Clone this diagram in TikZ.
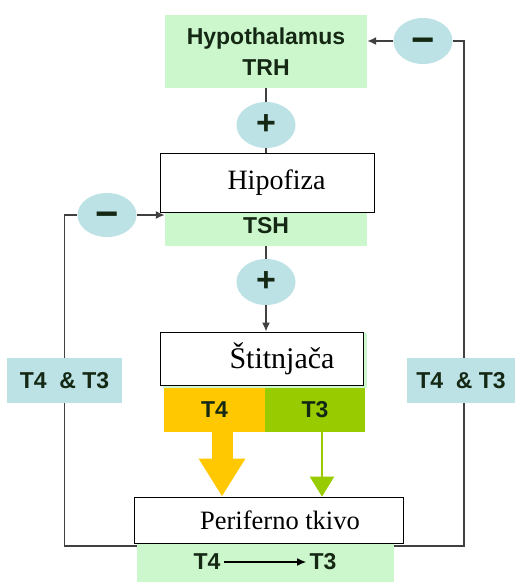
\documentclass[tikz,border=0pt]{standalone}
\usepackage{fontspec}
\setmainfont{Liberation Serif}
\newfontfamily\labfont{Liberation Sans}
\usetikzlibrary{shapes.geometric,arrows.meta}
\definecolor{paleGreen}{HTML}{CCF7CC}
\definecolor{paleBlue}{HTML}{BDE2E6}
\definecolor{tFour}{HTML}{FFC800}
\definecolor{tThree}{HTML}{99CC00}
\definecolor{inkDark}{HTML}{142814}
\definecolor{lineGrey}{HTML}{404040}
\begin{document}
\begin{tikzpicture}[x=1pt,y=-1pt,
    greenbox/.style={fill=paleGreen, inner sep=0pt, text=inkDark, font=\labfont\bfseries\fontsize{23}{31}\selectfont, align=center},
    bluebox/.style={fill=paleBlue, inner sep=0pt, minimum height=45pt, text=inkDark, font=\labfont\bfseries\fontsize{23}{26}\selectfont},
    sign/.style={ellipse, fill=paleBlue, inner sep=0pt, minimum width=59pt, minimum height=46pt, text=inkDark, font=\labfont\bfseries\fontsize{34}{34}\selectfont},
    minus/.style={sign, font=\labfont\bfseries\fontsize{40}{40}\selectfont},
    organ/.style={draw, fill=white, inner sep=0pt, line width=0.8pt},
    link/.style={lineGrey, line width=1.7pt},
    tip/.style={-{Latex[length=9pt,width=8pt]}}]
    \fill[white] (0,0) rectangle (515,582);
    \useasboundingbox (0,0) rectangle (515,582);

    % hypothalamus and pituitary
    \node[greenbox, minimum width=202pt, minimum height=73pt] (Hyp) at (266,51.5) {Hypothalamus\\TRH};
    \node[sign] (PlusTop) at (266,125) {+};
    \node[greenbox, minimum width=202pt, minimum height=40pt] (Tsh) at (266,226) {TSH};
    \node[organ, minimum width=214pt, minimum height=59pt, font=\fontsize{28}{30}\selectfont] (Pit) at (267,182.5) {\hspace*{19pt}Hipofiza};
    \node[sign] (PlusMid) at (266,282) {+};

    % thyroid
    \node[fill=paleGreen, minimum width=204pt, minimum height=55pt] (ThyG) at (265,360.5) {};
    \node[organ, minimum width=203pt, minimum height=53pt, font=\fontsize{30}{32}\selectfont] (Thy) at (261.5,358.5) {\hspace*{41pt}Štitnjača};
    \node[greenbox, fill=tFour, minimum width=101pt, minimum height=44pt] (T4) at (214.5,410) {T4};
    \node[greenbox, fill=tThree, minimum width=100pt, minimum height=44pt] (T3) at (315,410) {T3};

    % periphery
    \node[greenbox, minimum width=257pt, minimum height=42pt] (Conv) at (265.5,561) {};
    \node[organ, minimum width=269pt, minimum height=46pt, font=\fontsize{26.5}{28}\selectfont] (Peri) at (268.5,520) {\hspace*{23pt}Periferno tkivo};
    \node[text=inkDark, font=\labfont\bfseries\fontsize{23}{26}\selectfont] (BT4) at (207,562) {T4};
    \node[text=inkDark, font=\labfont\bfseries\fontsize{23}{26}\selectfont] (BT3) at (323,562) {T3};

    % feedback
    \node[minus] (MinusTop) at (423,41) {\raisebox{-12pt}[0pt][0pt]{−}};
    \node[minus, minimum height=44pt] (MinusLeft) at (107,215) {\raisebox{-12pt}[0pt][0pt]{−}};
    \node[bluebox, minimum width=115pt] (LeftFb) at (64.5,380.5) {T4 \ \& T3};
    \node[bluebox, minimum width=108pt] (RightFb) at (461,380.5) {T4 \ \& T3};

    \draw[link] (Hyp.south) -- (PlusTop.north);
    \draw[link] (PlusTop.south) -- (Pit.north -| PlusTop.south);
    \draw[link] (Tsh.south) -- (PlusMid.north);
    \draw[link, tip] (PlusMid.south) -- (PlusMid.south |- Thy.north);
    \draw[link, tip] (MinusTop.west) -- (MinusTop.west -| Hyp.east);
    \draw[link] (MinusTop.east) -| ([xshift=3pt]RightFb.north);
    \draw[link, tip] (MinusLeft.east) -- (MinusLeft.east -| Tsh.west);
    \draw[link] (MinusLeft.west) -| (LeftFb.north);
    \draw[link] (LeftFb.south) |- ([yshift=15pt]Conv.west);
    \draw[link] ([xshift=3pt]RightFb.south) |- ([yshift=15pt]Conv.east);
    \draw[tFour, line width=21pt, -{Triangle[width=44pt,length=38pt]}] ([xshift=7.5pt]T4.south) -- ([xshift=7.5pt]T4.south |- Peri.north);
    \draw[tThree, line width=2.5pt, -{Triangle[width=24pt,length=20pt]}] ([xshift=7pt]T3.south) -- ([xshift=7pt]T3.south |- Peri.north);
    \draw[line width=1.2pt, -{Latex[length=9pt,width=8pt]}] (BT4) -- (BT3);
\end{tikzpicture}
\end{document}
